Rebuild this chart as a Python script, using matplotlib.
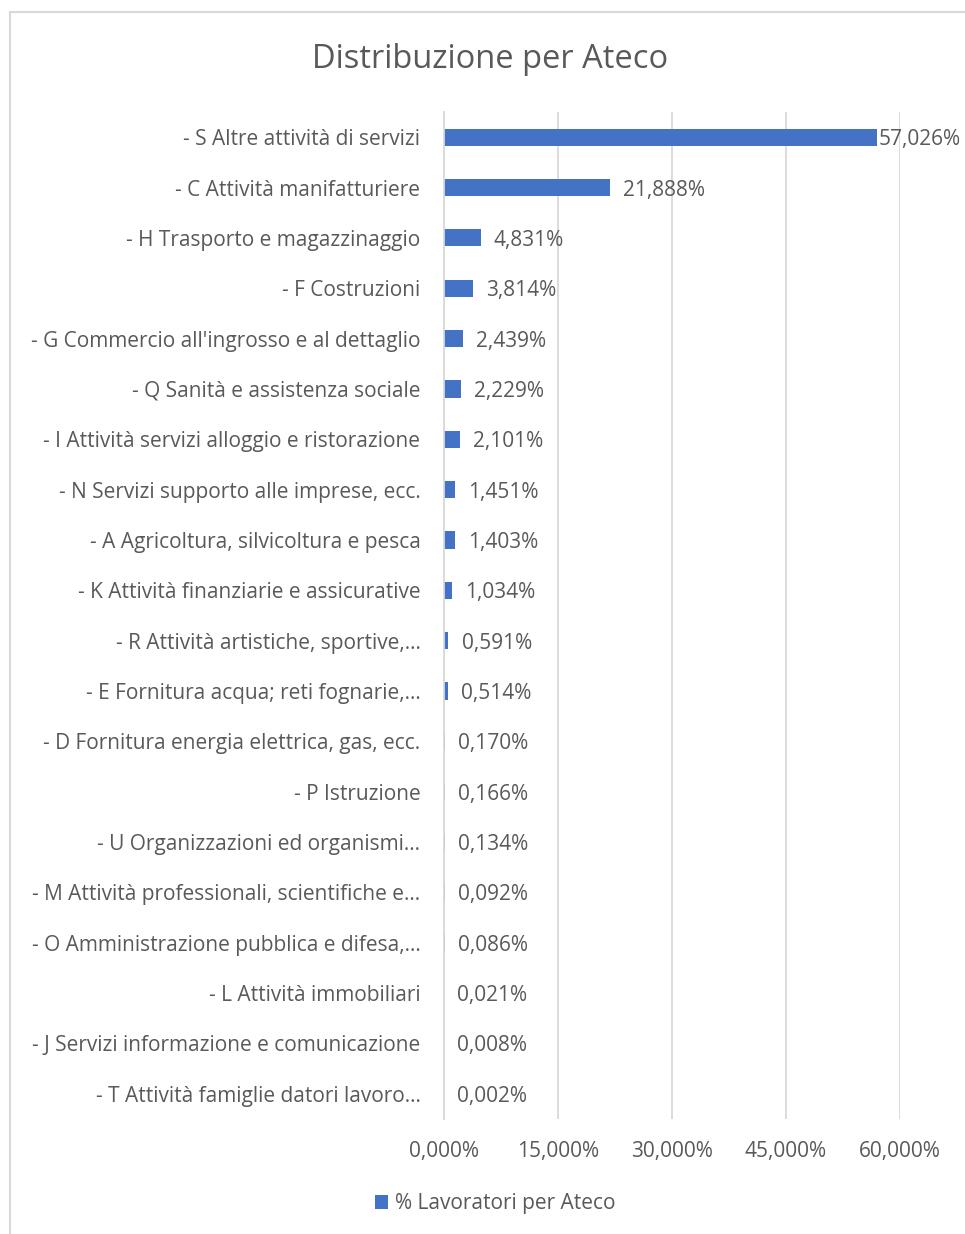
import matplotlib.pyplot as plt
from matplotlib.patches import Rectangle
from matplotlib.ticker import FuncFormatter

# ============================================================================
# Dati
# ============================================================================

categorie = [
    "- S Altre attività di servizi",
    "- C Attività manifatturiere",
    "- H Trasporto e magazzinaggio",
    "- F Costruzioni",
    "- G Commercio all'ingrosso e al dettaglio",
    "- Q Sanità e assistenza sociale",
    "- I Attività servizi alloggio e ristorazione",
    "- N Servizi supporto alle imprese, ecc.",
    "- A Agricoltura, silvicoltura e pesca",
    "- K Attività finanziarie e assicurative",
    "- R Attività artistiche, sportive,…",
    "- E Fornitura acqua; reti fognarie,…",
    "- D Fornitura energia elettrica, gas, ecc.",
    "- P Istruzione",
    "- U Organizzazioni ed organismi…",
    "- M Attività professionali, scientifiche e…",
    "- O Amministrazione pubblica e difesa,…",
    "- L Attività immobiliari",
    "- J Servizi informazione e comunicazione",
    "- T Attività famiglie datori lavoro…",
]
percentuali = [57.026, 21.888, 4.831, 3.814, 2.439, 2.229, 2.101, 1.451, 1.403,
               1.034, 0.591, 0.514, 0.170, 0.166, 0.134, 0.092, 0.086, 0.021,
               0.008, 0.002]
x_ticks = [0, 15, 30, 45, 60]
serie = "% Lavoratori per Ateco"
titolo = "Distribuzione per Ateco"

# ============================================================================
# Stile (Excel)
# ============================================================================

BAR = "#4472C4"
TEXT = "#595959"
GRID = "#D9D9D9"
FONT = ["Open Sans", "DejaVu Sans"]
FS = 15

plt.rcParams["font.family"] = FONT

fig = plt.figure(figsize=(9.65, 12.34), dpi=100)
ax = fig.add_axes([0.4601, 0.0932, 0.4725, 0.816])

# cornice esterna del grafico
fig.patches.append(Rectangle((10 / 965, -0.05), 1.2, 1 - 12 / 1234 + 0.05,
                             transform=fig.transFigure, fill=False,
                             edgecolor=GRID, linewidth=1.5))

y = list(range(len(categorie)))
ax.barh(y, percentuali, height=0.34, color=BAR, label=serie, zorder=3)
ax.set_ylim(len(categorie) - 0.5, -0.5)
ax.set_xlim(x_ticks[0], x_ticks[-1])

# etichette dati (Excel sposta quella troppo lunga dentro il grafico)
for i, v in enumerate(percentuali):
    testo = f"{v:.3f}%".replace(".", ",")
    off = 1.0 if v > 0.9 * x_ticks[-1] else 9.4
    ax.annotate(testo, xy=(v, i), xytext=(off, -1.8), textcoords="offset points",
                ha="left", va="center", fontsize=FS, color=TEXT,
                annotation_clip=False)

ax.set_yticks(y)
ax.set_yticklabels(categorie)
ax.set_xticks(x_ticks)
ax.xaxis.set_major_formatter(FuncFormatter(lambda v, p: f"{v:.3f}%".replace(".", ",")))
ax.tick_params(axis="y", length=0, pad=17, labelsize=FS, labelcolor=TEXT)
ax.tick_params(axis="x", length=0, pad=16, labelsize=FS, labelcolor=TEXT)

ax.grid(axis="x", color=GRID, linewidth=1.3, zorder=0)
for s in ["top", "right", "bottom"]:
    ax.spines[s].set_visible(False)
ax.spines["left"].set_color(GRID)
ax.spines["left"].set_linewidth(1.3)
ax.spines["left"].set_zorder(4)

fig.text(490 / 965, 1 - 59 / 1234, titolo, ha="center", va="center",
         fontsize=23.5, color=TEXT)

fig.legend(loc="center", bbox_to_anchor=(495 / 965, 1 - 1204 / 1234),
           frameon=False, fontsize=FS, labelcolor=TEXT,
           handlelength=0.65, handleheight=0.65, handletextpad=0.3)

plt.savefig("out.png", dpi=100, facecolor="white")
plt.close()
